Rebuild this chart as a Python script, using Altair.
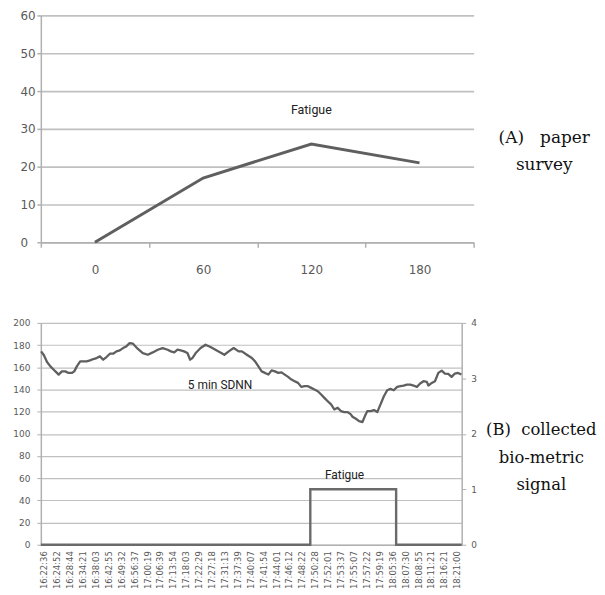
import json
import altair as alt
import pandas as pd

# ---------------- data: (A) paper survey ----------------
survey_minutes = ["0", "60", "120", "180"]
survey_fatigue = [0, 17, 26, 21]

# ---------------- data: (B) collected bio-metric signal ----------------
time_labels = [
    "16:22:36", "16:24:52", "16:28:44", "16:34:21", "16:38:03", "16:42:55",
    "16:49:32", "16:56:37", "17:00:19", "17:06:39", "17:13:54", "17:18:03",
    "17:22:29", "17:27:18", "17:31:13", "17:37:39", "17:40:07", "17:41:54",
    "17:44:01", "17:46:12", "17:48:22", "17:50:28", "17:52:01", "17:53:37",
    "17:55:07", "17:57:22", "17:59:19", "18:05:36", "18:07:30", "18:08:55",
    "18:11:21", "18:16:21", "18:21:00",
]

# sample position (in time-label units, 0 = first label) and 5 min SDNN value
sdnn_pos = [
    -0.21, 0.00, 0.25, 0.51, 0.77, 1.02, 1.15, 1.40, 1.67, 1.92, 2.17, 2.36,
    2.56, 2.82, 3.07, 3.32, 3.58, 3.84, 4.09, 4.35, 4.60, 4.86, 5.12, 5.37,
    5.63, 5.89, 6.14, 6.39, 6.65, 6.91, 7.29, 7.67, 8.06, 8.44, 8.83, 9.21,
    9.59, 9.85, 10.11, 10.36, 10.61, 10.87, 11.13, 11.34, 11.51, 11.77, 12.15,
    12.53, 12.92, 13.30, 13.68, 13.99, 14.33, 14.71, 15.10, 15.35, 15.73,
    16.12, 16.37, 16.63, 16.88, 17.14, 17.40, 17.65, 17.91, 18.17, 18.42,
    18.67, 18.93, 19.19, 19.44, 19.70, 19.95, 20.21, 20.47, 20.72, 20.97,
    21.23, 21.49, 21.74, 22.00, 22.26, 22.51, 22.77, 23.02, 23.28, 23.54,
    23.79, 23.92, 24.18, 24.43, 24.69, 24.94, 25.07, 25.33, 25.58, 25.84,
    26.09, 26.35, 26.61, 26.86, 27.11, 27.38, 27.63, 27.88, 28.14, 28.40,
    28.65, 28.91, 29.16, 29.42, 29.68, 29.80, 30.06, 30.31, 30.57, 30.83,
    31.08, 31.34, 31.60, 31.85, 32.10, 32.36,
]
sdnn_values = [
    174.3, 171.0, 164.7, 160.8, 157.8, 154.9, 153.4, 156.3, 156.3, 154.9,
    154.9, 156.3, 160.8, 165.3, 165.3, 165.3, 166.2, 167.4, 168.3, 169.8,
    166.8, 169.2, 172.2, 172.2, 174.3, 175.2, 177.3, 178.8, 181.8, 181.2,
    176.5, 172.8, 171.3, 173.4, 175.8, 177.3, 175.8, 174.3, 173.4, 175.8,
    175.2, 174.3, 172.8, 166.8, 168.3, 172.8, 177.3, 180.3, 178.2, 175.8,
    173.4, 171.3, 174.3, 177.3, 174.3, 174.3, 171.3, 168.3, 165.3, 160.8,
    156.3, 154.9, 153.4, 157.2, 156.3, 154.9, 155.4, 153.4, 151.3, 148.9,
    147.4, 145.9, 142.3, 142.9, 142.9, 141.4, 139.9, 138.4, 135.4, 132.4,
    129.4, 126.5, 122.0, 123.5, 120.5, 119.6, 119.6, 117.5, 115.4, 113.6,
    111.5, 110.6, 117.5, 120.5, 120.5, 121.4, 119.6, 126.5, 133.9, 139.3,
    140.5, 139.3, 142.3, 142.9, 143.5, 144.4, 144.4, 143.5, 142.3, 145.3,
    147.4, 146.8, 143.5, 145.9, 147.4, 154.9, 157.0, 154.3, 154.0, 151.3,
    154.3, 154.9, 153.4,
]

# fatigue flag (right axis, 0/1) as a step trace
fatigue_pos = [-0.23, 20.65, 20.65, 27.3, 27.3, 32.38]
fatigue_flag = [0, 0, 1, 1, 0, 0]

# ---------------- styles ----------------
LABEL = "#595959"
GRID = "#c0c0c0"
AXIS = "#b0b0b0"
LINE = "#5f5f5f"
SANS = "DejaVu Sans"

# ---------------- (A) chart ----------------
top_df = pd.DataFrame({"minute": survey_minutes, "fatigue": survey_fatigue})

x_top = alt.X(
    "minute:N",
    sort=survey_minutes,
    bandPosition=0.5,
    scale=alt.Scale(type="band", paddingInner=0, paddingOuter=0),
    axis=alt.Axis(
        title=None, labelAngle=0, tickBand="extent", grid=False,
        domainColor=AXIS, domainWidth=1.5, tickColor=AXIS, tickWidth=1.5,
        tickSize=5, labelPadding=17, labelFontSize=12, labelFont=SANS,
        labelColor=LABEL,
    ),
)
y_top = alt.Y(
    "fatigue:Q",
    scale=alt.Scale(domain=[0, 60], nice=False),
    axis=alt.Axis(
        title=None, values=[0, 10, 20, 30, 40, 50, 60], grid=True,
        gridColor=GRID, gridWidth=1.7, domainColor=AXIS, domainWidth=1.5,
        tickColor=AXIS, tickWidth=1.5, tickSize=4, labelPadding=17,
        labelAlign="left", labelFontSize=12, labelFont=SANS, labelColor=LABEL,
    ),
)

top_line = alt.Chart(top_df).mark_line(color=LINE, strokeWidth=3).encode(
    x=x_top, y=y_top
)
top_label = alt.Chart(
    pd.DataFrame({"minute": ["120"], "fatigue": [35.0], "label": ["Fatigue"]})
).mark_text(font="Roboto", fontSize=12.5, color="#222222").encode(
    x=x_top, y=y_top, text="label:N"
)
top_caption = alt.Chart(
    pd.DataFrame({"caption": ["(A)\u00a0\u00a0 paper\nsurvey"]})
).mark_text(
    font="DejaVu Serif", fontSize=17, color="#111111", lineBreak="\n",
    lineHeight=27, align="center", baseline="middle",
).encode(text="caption:N", x=alt.value(506), y=alt.value(123))

top = alt.layer(top_line, top_label, top_caption).properties(
    width=435, height=228
)

# ---------------- (B) chart ----------------
sdnn_df = pd.DataFrame({"pos": sdnn_pos, "sdnn": sdnn_values})
flag_df = pd.DataFrame({"pos": fatigue_pos, "flag": fatigue_flag})
label_df = pd.DataFrame(
    {"pos": [13.66, 23.3], "sdnn": [144.4, 62.8], "label": ["5 min SDNN", "Fatigue"]}
)

label_expr = json.dumps(time_labels) + "[round(datum.value)]"
x_bot = alt.X(
    "pos:Q",
    scale=alt.Scale(domain=[-0.23, 32.38], nice=False, zero=False),
    axis=alt.Axis(
        title=None, values=list(range(len(time_labels))), labelExpr=label_expr,
        labelAngle=-90, labelFlush=False, labelOverlap=False, labelBound=False,
        ticks=False, grid=False, domainColor=AXIS, domainWidth=1.5,
        labelPadding=6, labelFontSize=8.5, labelFont=SANS, labelColor=LABEL,
    ),
)
y_left = alt.Y(
    "sdnn:Q",
    scale=alt.Scale(domain=[0, 200], nice=False),
    axis=alt.Axis(
        title=None, values=list(range(0, 201, 20)), grid=True, gridColor=GRID,
        gridWidth=1.2, domainColor=AXIS, domainWidth=1.5, tickColor=AXIS,
        tickSize=4, labelPadding=7, labelFontSize=9, labelFont=SANS,
        labelColor=LABEL,
    ),
)
y_right = alt.Y(
    "flag:Q",
    scale=alt.Scale(domain=[0, 4], nice=False),
    axis=alt.Axis(
        title=None, orient="right", values=[0, 1, 2, 3, 4], grid=False,
        domainColor=AXIS, domainWidth=1.5, tickColor=AXIS, tickSize=4,
        labelPadding=5, labelFontSize=9, labelFont=SANS, labelColor=LABEL,
    ),
)

sdnn_line = alt.Chart(sdnn_df).mark_line(
    color=LINE, strokeWidth=2.3, strokeJoin="round"
).encode(x=x_bot, y=y_left)
sdnn_text = alt.Chart(label_df).mark_text(
    font="Roboto", fontSize=12, color="#222222"
).encode(x=x_bot, y=y_left, text="label:N")
bot_caption = alt.Chart(
    pd.DataFrame({"caption": ["(B)\u00a0 collected\nbio-metric\nsignal"]})
).mark_text(
    font="DejaVu Serif", fontSize=16.5, color="#111111", lineBreak="\n",
    lineHeight=27.5, align="center", baseline="middle",
).encode(text="caption:N", x=alt.value(503), y=alt.value(108))

left_group = alt.layer(sdnn_line, sdnn_text, bot_caption)
flag_line = alt.Chart(flag_df).mark_line(
    color="#6a6a6a", strokeWidth=2.4, strokeJoin="miter"
).encode(x=x_bot, y=y_right)

bottom = (
    alt.layer(left_group, flag_line)
    .resolve_scale(y="independent")
    .properties(width=423, height=223)
)

chart = (
    alt.vconcat(top, bottom, spacing=44)
    .properties(padding={"left": 4, "top": 0, "right": 0, "bottom": 0})
    .configure_view(stroke=None)
)

chart.save("out.html", embed_options={"renderer": "svg", "actions": False})
